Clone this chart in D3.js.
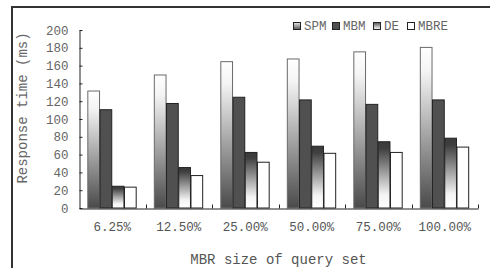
<!DOCTYPE html>
<html>
<head>
<meta charset="utf-8">
<script src="https://cdn.jsdelivr.net/npm/d3@7"></script>
<style>
  html, body { margin: 0; padding: 0; background: #fff; }
  svg { display: block; }
</style>
</head>
<body>
<svg id="chart" width="490" height="268"></svg>
<script>
const categories = ["6.25%", "12.50%", "25.00%", "50.00%", "75.00%", "100.00%"];
const seriesNames = ["SPM", "MBM", "DE", "MBRE"];
const spmValues  = [132, 150, 165, 168, 176, 181];
const mbmValues  = [111, 118, 125, 122, 117, 122];
const deValues   = [25, 46, 63, 70, 75, 79];
const mbreValues = [24, 37, 52, 62, 63, 69];
const yTicks = [0, 20, 40, 60, 80, 100, 120, 140, 160, 180, 200];
const xTitle = "MBR size of query set";
const yTitle = "Response time (ms)";

(function () {
const seriesValues = [spmValues, mbmValues, deValues, mbreValues];

const svg = d3.select("#chart");
const font = "'Liberation Mono', 'DejaVu Sans Mono', monospace";

// gradients
const defs = svg.append("defs");
const gSPM = defs.append("linearGradient").attr("id", "gSPM").attr("x1", 0).attr("y1", 0).attr("x2", 0).attr("y2", 1);
gSPM.append("stop").attr("offset", "0%").attr("stop-color", "#ffffff");
gSPM.append("stop").attr("offset", "15%").attr("stop-color", "#f4f4f4");
gSPM.append("stop").attr("offset", "100%").attr("stop-color", "#4a4a4a");
const gDE = defs.append("linearGradient").attr("id", "gDE").attr("x1", 0).attr("y1", 0).attr("x2", 0).attr("y2", 1);
gDE.append("stop").attr("offset", "0%").attr("stop-color", "#3a3a3a");
gDE.append("stop").attr("offset", "10%").attr("stop-color", "#3f3f3f");
gDE.append("stop").attr("offset", "80%").attr("stop-color", "#f4f4f4");
gDE.append("stop").attr("offset", "100%").attr("stop-color", "#ffffff");
const gSPMl = defs.append("linearGradient").attr("id", "gSPMl").attr("x1", 0).attr("y1", 0).attr("x2", 0).attr("y2", 1);
gSPMl.append("stop").attr("offset", "0%").attr("stop-color", "#e8e8e8");
gSPMl.append("stop").attr("offset", "100%").attr("stop-color", "#555");
const gDEl = defs.append("linearGradient").attr("id", "gDEl").attr("x1", 0).attr("y1", 0).attr("x2", 0).attr("y2", 1);
gDEl.append("stop").attr("offset", "0%").attr("stop-color", "#555");
gDEl.append("stop").attr("offset", "100%").attr("stop-color", "#fff");

const fills = ["url(#gSPM)", "#505050", "url(#gDE)", "#ffffff"];
const strokes = ["#6a6a6a", "#222", "#222", "#222"];
const legendFills = ["url(#gSPMl)", "#505050", "url(#gDEl)", "#ffffff"];

// outer frame
svg.append("rect").attr("x", 12).attr("y", 7).attr("width", 500).attr("height", 300)
  .attr("fill", "none").attr("stroke", "#333").attr("stroke-width", 2);

const pLeft = 79, pRight = 478, pTop = 30, pBottom = 208;

const x0 = d3.scaleBand().domain(categories).range([pLeft, pRight]).padding(0);
const bw = x0.bandwidth();
const x1 = d3.scaleBand().domain(seriesNames).range([bw * 0.125, bw * 0.86]).padding(0);
const y = d3.scaleLinear().domain([0, 200]).range([pBottom, pTop]);

// bars
seriesNames.forEach((s, si) => {
  svg.append("g").selectAll("rect")
    .data(seriesValues[si])
    .join("rect")
    .attr("x", (d, i) => x0(categories[i]) + x1(s) + 0.5)
    .attr("y", d => y(d) + 0.5)
    .attr("width", x1.bandwidth() - 0.5)
    .attr("height", d => pBottom - y(d) - 0.5)
    .attr("fill", fills[si])
    .attr("stroke", strokes[si])
    .attr("stroke-width", 1);
});

// y axis
const yAxis = d3.axisLeft(y).tickValues(yTicks).tickSizeInner(-3).tickSizeOuter(0).tickPadding(11);
const yg = svg.append("g").attr("transform", `translate(${pLeft + 0.5},0)`).call(yAxis);
yg.select(".domain").attr("stroke", "#222");
yg.selectAll(".tick line").attr("stroke", "#222");
yg.selectAll(".tick text").attr("font-family", font).attr("font-size", "12.5px").attr("fill", "#666");

// x axis
const xAxis = d3.axisBottom(x0).tickSize(0).tickPadding(14);
const xg = svg.append("g").attr("transform", `translate(0,${pBottom + 0.5})`).call(xAxis);
xg.select(".domain").attr("stroke", "#222");
xg.selectAll(".tick text").attr("font-family", font).attr("font-size", "12.5px").attr("fill", "#555");
// boundary ticks
xg.append("g").selectAll("line")
  .data(categories)
  .join("line")
  .attr("x1", d => Math.round(x0(d) + bw) + 0.5)
  .attr("x2", d => Math.round(x0(d) + bw) + 0.5)
  .attr("y1", 0).attr("y2", -4)
  .attr("stroke", "#222");

// titles
svg.append("text").attr("x", (pLeft + pRight) / 2).attr("y", 264)
  .attr("text-anchor", "middle").attr("font-family", font).attr("font-size", "14px").attr("fill", "#555")
  .text(xTitle);
svg.append("text").attr("transform", `translate(27,108) rotate(-90)`)
  .attr("text-anchor", "middle").attr("font-family", font).attr("font-size", "14px").attr("fill", "#666")
  .text(yTitle);

// legend
const legendX = [293, 332, 373, 407];
const lg = svg.append("g");
seriesNames.forEach((s, i) => {
  lg.append("rect").attr("x", legendX[i] + 0.5).attr("y", 22.5).attr("width", 7).attr("height", 7)
    .attr("fill", legendFills[i]).attr("stroke", "#222").attr("stroke-width", 1);
  lg.append("text").attr("x", legendX[i] + 11).attr("y", 30)
    .attr("font-family", font).attr("font-size", "12.5px").attr("fill", "#666")
    .text(s);
});
})();
</script>
</body>
</html>
